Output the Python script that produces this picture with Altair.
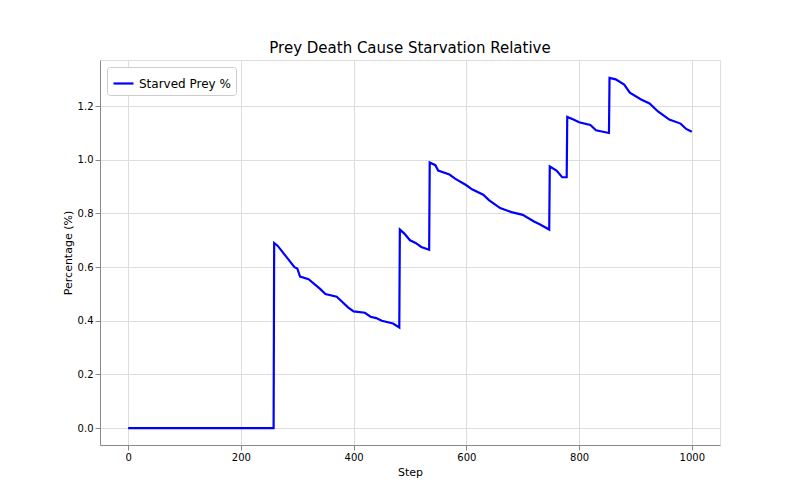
import altair as alt
import pandas as pd

steps = [0,258,259,265,280,295,300,305,320,340,350,370,380,390,400,420,430,440,450,470,481,
         482,490,500,510,520,534,535,545,550,570,580,600,610,630,640,650,660,680,700,720,730,747,
         748,760,770,778,779,790,800,820,830,853,854,865,880,890,910,925,940,960,980,990,1000]
values = [0,0,0.69,0.68,0.64,0.60,0.595,0.565,0.555,0.52,0.50,0.49,0.47,0.45,0.435,0.43,0.415,0.41,0.40,0.39,0.375,
          0.74,0.725,0.70,0.69,0.675,0.665,0.99,0.98,0.96,0.945,0.93,0.905,0.89,0.87,0.85,0.835,0.82,0.805,0.795,0.77,0.76,0.74,
          0.975,0.96,0.935,0.935,1.16,1.15,1.14,1.13,1.11,1.10,1.305,1.30,1.28,1.25,1.225,1.21,1.18,1.15,1.135,1.115,1.105]

df = pd.DataFrame({"Step": steps, "Value": values, "Series": "Starved Prey %"})

chart = alt.Chart(df).mark_line(strokeWidth=2.2).encode(
    x=alt.X("Step:Q", scale=alt.Scale(domain=[-50, 1050], nice=False, zero=False),
            axis=alt.Axis(values=[0,200,400,600,800,1000], format="d", title="Step",
                          titleFontWeight="normal")),
    y=alt.Y("Value:Q", scale=alt.Scale(domain=[-0.063, 1.372], nice=False),
            axis=alt.Axis(values=[0,0.2,0.4,0.6,0.8,1.0,1.2], format=".1f", title="Percentage (%)",
                          titleFontWeight="normal")),
    color=alt.Color("Series:N", scale=alt.Scale(range=["#0000ff"]),
                    legend=alt.Legend(title=None, orient="top-left", symbolType="stroke", offset=7,
                                      symbolStrokeWidth=2.2, symbolSize=400, labelFontSize=12,
                                      strokeColor="#cccccc", fillColor="white", padding=5, cornerRadius=3)),
).properties(
    width=620, height=385,
    title=alt.Title("Prey Death Cause Starvation Relative", fontSize=15, fontWeight="normal"),
    autosize=alt.AutoSizeParams(type="none"),
    padding={"left": 92, "top": 52, "right": 72, "bottom": 47},
).configure_axis(
    grid=True, gridColor="#b0b0b0", gridOpacity=1, domainColor="black", tickColor="black",
    labelFontSize=12, titleFontSize=13, labelColor="black", titleColor="black",
).configure_view(stroke="black", strokeWidth=1).configure(font="DejaVu Sans")

chart.save("out.html", embed_options={"renderer": "svg", "actions": False})
